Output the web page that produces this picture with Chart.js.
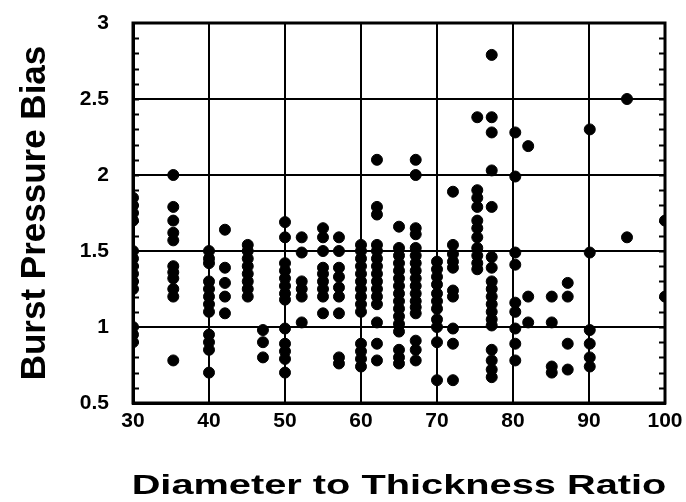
<!DOCTYPE html>
<html>
<head>
<meta charset="utf-8">
<script src="https://cdn.jsdelivr.net/npm/chart.js@4/dist/chart.umd.min.js"></script>
<style>
  html, body { margin: 0; padding: 0; background: #fff; }
  #wrap { width: 686px; height: 502px; }
</style>
</head>
<body>
<div id="wrap"><canvas id="chart1" width="686" height="502"></canvas></div>
<script>
// tick values shown on the axes
const xTicks = [30, 40, 50, 60, 70, 80, 90, 100];
const yTicks = [0.5, 1, 1.5, 2, 2.5, 3];
const xTitle = 'Diameter to Thickness Ratio';
const yTitle = 'Burst Pressure Bias';

// diameter-to-thickness ratio of each test point
const ratio = [
    30,30,30,30,30,30,30,30,30,30,30,30,30,
    35.3,35.3,35.3,35.3,35.3,35.3,35.3,35.3,35.3,35.3,35.3,
    40,40,40,40,40,40,40,40,40,40,40,40,
    42.1,42.1,42.1,42.1,42.1,
    45.1,45.1,45.1,45.1,45.1,45.1,45.1,45.1,
    47.1,47.1,47.1,
    50,50,50,50,50,50,50,50,50,50,50,50,50,
    52.2,52.2,52.2,52.2,52.2,52.2,
    55,55,55,55,55,55,55,55,55,
    57.1,57.1,57.1,57.1,57.1,57.1,57.1,57.1,57.1,
    60,60,60,60,60,60,60,60,60,60,60,60,60,60,
    62.1,62.1,62.1,62.1,62.1,62.1,62.1,62.1,62.1,62.1,62.1,62.1,62.1,62.1,62.1,
    65,65,65,65,65,65,65,65,65,65,65,65,65,65,65,65,
    67.2,67.2,67.2,67.2,67.2,67.2,67.2,67.2,67.2,67.2,67.2,67.2,67.2,67.2,67.2,67.2,67.2,
    70,70,70,70,70,70,70,70,70,70,70,
    72.1,72.1,72.1,72.1,72.1,72.1,72.1,72.1,72.1,72.1,
    75.3,75.3,75.3,75.3,75.3,75.3,75.3,75.3,75.3,75.3,75.3,
    77.2,77.2,77.2,77.2,77.2,77.2,77.2,77.2,77.2,77.2,77.2,77.2,77.2,77.2,77.2,77.2,77.2,77.2,
    80.3,80.3,80.3,80.3,80.3,80.3,80.3,80.3,80.3,
    82,82,82,
    85.1,85.1,85.1,85.1,
    87.2,87.2,87.2,87.2,
    90.1,90.1,90.1,90.1,90.1,90.1,
    95,95,
    100,100
];

// burst pressure bias, same order as ratio
const bias = [
    1.85,1.8,1.75,1.7,1.5,1.45,1.4,1.35,1.3,1.25,1.0,0.95,0.9,
    2.0,1.79,1.7,1.62,1.57,1.4,1.36,1.32,1.25,1.2,0.78,
    1.5,1.45,1.42,1.3,1.25,1.2,1.15,1.1,0.95,0.9,0.85,0.7,
    1.64,1.39,1.29,1.2,1.09,
    1.54,1.5,1.45,1.4,1.35,1.3,1.25,1.2,
    0.98,0.9,0.8,
    1.69,1.59,1.42,1.37,1.32,1.27,1.22,1.18,0.99,0.89,0.84,0.79,0.7,
    1.59,1.49,1.3,1.25,1.2,1.03,
    1.65,1.59,1.5,1.39,1.35,1.3,1.25,1.2,1.09,
    1.59,1.5,1.39,1.33,1.26,1.2,1.09,0.8,0.76,
    1.54,1.5,1.45,1.4,1.35,1.3,1.25,1.2,1.15,1.1,0.89,0.84,0.79,0.74,
    2.1,1.79,1.74,1.54,1.5,1.45,1.4,1.35,1.3,1.25,1.2,1.15,1.03,0.89,0.78,
    1.66,1.52,1.47,1.42,1.37,1.32,1.27,1.22,1.17,1.12,1.07,1.02,0.97,0.85,0.8,0.76,
    2.1,2.0,1.65,1.61,1.52,1.47,1.42,1.37,1.32,1.27,1.22,1.17,1.13,1.09,0.91,0.85,0.78,
    1.43,1.38,1.33,1.28,1.22,1.17,1.12,1.05,1.0,0.9,0.65,
    1.89,1.54,1.48,1.43,1.39,1.24,1.2,0.99,0.89,0.65,
    2.38,1.9,1.85,1.79,1.7,1.65,1.59,1.52,1.47,1.42,1.38,
    2.79,2.38,2.28,2.03,1.79,1.46,1.39,1.3,1.25,1.2,1.15,1.1,1.05,1.01,0.85,0.78,0.72,0.67,
    2.28,1.99,1.49,1.41,1.16,1.1,0.99,0.89,0.78,
    2.19,1.2,1.03,
    1.2,1.03,0.74,0.7,
    1.29,1.2,0.89,0.72,
    2.3,1.49,0.98,0.89,0.8,0.74,
    2.5,1.59,
    1.7,1.2
];

const points = ratio.map((r, i) => ({ x: r, y: bias[i] }));
const fontFamily = '"Liberation Sans", Arial, sans-serif';

// frame round the plot, small inward ticks on left/right axes, wide x title
const frame = {
    id: 'frame',
    afterDraw(chart) {
        const { ctx, chartArea: a, scales: { y } } = chart;
        ctx.save();
        ctx.strokeStyle = '#000';
        ctx.lineWidth = 2;
        for (let v = 0.6; v < 3; v += 0.1) {
            const py = Math.round(y.getPixelForValue(v)) + 0.5;
            ctx.beginPath();
            ctx.moveTo(a.left, py); ctx.lineTo(a.left + 6, py);
            ctx.moveTo(a.right, py); ctx.lineTo(a.right - 6, py);
            ctx.stroke();
        }
        ctx.lineWidth = 3;
        ctx.strokeRect(a.left, a.top, a.right - a.left, a.bottom - a.top);

        // the x title in the original is stretched sideways
        ctx.fillStyle = '#000';
        ctx.font = 'bold 28px ' + fontFamily;
        ctx.textAlign = 'center';
        ctx.textBaseline = 'alphabetic';
        ctx.translate((a.left + a.right) / 2, 494);
        ctx.scale(1.42, 1);
        ctx.fillText(xTitle, 0, 0);
        ctx.restore();
    }
};

const tickFont = { family: fontFamily, size: 21, weight: 'bold' };

new Chart(document.getElementById('chart1').getContext('2d'), {
    type: 'scatter',
    data: {
        datasets: [{
            data: points,
            backgroundColor: '#000',
            borderColor: '#000',
            pointRadius: 5.5,
            pointHoverRadius: 5.5
        }]
    },
    options: {
        responsive: false,
        animation: false,
        layout: { padding: { left: 0, right: 21, top: 23, bottom: 0 } },
        plugins: { legend: { display: false }, tooltip: { enabled: false } },
        scales: {
            x: {
                min: 30, max: 100,
                afterBuildTicks: s => { s.ticks = xTicks.map(v => ({ value: v })); },
                afterFit: s => { s.height = 99; s.paddingRight = 0; s.paddingLeft = 0; },
                ticks: { color: '#000', font: tickFont, padding: 6, maxRotation: 0 },
                grid: { color: '#000', lineWidth: 2, drawTicks: false },
                border: { color: '#000', width: 3 }
            },
            y: {
                min: 0.5, max: 3,
                afterBuildTicks: s => { s.ticks = yTicks.map(v => ({ value: v })); },
                afterFit: s => { s.width = 133; s.paddingTop = 0; s.paddingBottom = 0; },
                ticks: { color: '#000', font: tickFont, padding: 24, callback: v => String(v) },
                grid: { color: '#000', lineWidth: 2, drawTicks: false },
                border: { color: '#000', width: 3 },
                title: {
                    display: true,
                    text: yTitle,
                    color: '#000',
                    font: { family: fontFamily, size: 35, weight: 'bold' },
                    padding: { top: 14, bottom: 0 }
                }
            }
        }
    },
    plugins: [frame]
});
</script>
</body>
</html>
